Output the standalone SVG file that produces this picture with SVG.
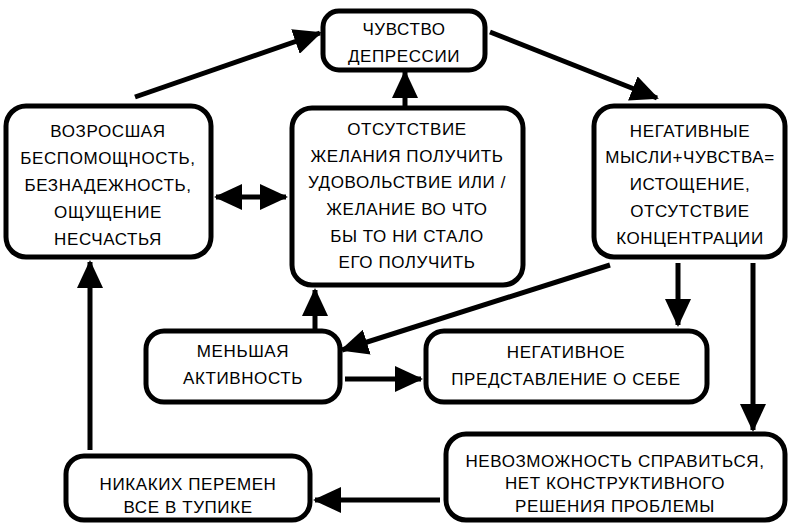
<svg xmlns="http://www.w3.org/2000/svg" width="792" height="532" viewBox="0 0 792 532">
<style>
.box{fill:#fff;stroke:#000;stroke-width:5}
.t{font-family:"Liberation Sans",Arial,sans-serif;font-size:17px;fill:#000;text-anchor:middle;letter-spacing:0.6px}
.c{stroke:#000;stroke-width:5;fill:none}
</style>
<defs>
<marker id="ah" markerUnits="userSpaceOnUse" markerWidth="28" markerHeight="26" refX="26" refY="13" orient="auto">
<path d="M0,0 L28,13 L0,26 Z" fill="#000"/>
</marker>
<marker id="as" markerUnits="userSpaceOnUse" markerWidth="28" markerHeight="26" refX="2" refY="13" orient="auto">
<path d="M28,0 L0,13 L28,26 Z" fill="#000"/>
</marker>
</defs>
<rect width="792" height="532" fill="#fff"/>
<g id="connectors">
<line class="c" x1="135" y1="97" x2="320" y2="33" marker-end="url(#ah)"/>
<line class="c" x1="490" y1="32" x2="657" y2="98" marker-end="url(#ah)"/>
<line class="c" x1="405" y1="108" x2="405" y2="72" marker-end="url(#ah)"/>
<line class="c" x1="216" y1="197" x2="286" y2="197" marker-start="url(#as)" marker-end="url(#ah)"/>
<line class="c" x1="610" y1="265" x2="342" y2="350" marker-end="url(#ah)"/>
<line class="c" x1="678" y1="263" x2="678" y2="325" marker-end="url(#ah)"/>
<line class="c" x1="753" y1="263" x2="753" y2="430" marker-end="url(#ah)"/>
<line class="c" x1="315" y1="330" x2="315" y2="290" marker-end="url(#ah)"/>
<line class="c" x1="345" y1="379" x2="421" y2="379" marker-end="url(#ah)"/>
<line class="c" x1="440" y1="500" x2="315" y2="500" marker-end="url(#ah)"/>
<line class="c" x1="90" y1="450" x2="90" y2="262" marker-end="url(#ah)"/>
</g>
<g id="n1">
<rect class="box" x="323" y="11" width="162" height="59" rx="16"/>
<text class="t" x="404" y="35">ЧУВСТВО</text>
<text class="t" x="404" y="62">ДЕПРЕССИИ</text>
</g>
<g id="n2">
<rect class="box" x="6" y="106" width="205" height="151" rx="20"/>
<text class="t" x="108" y="137">ВОЗРОСШАЯ</text>
<text class="t" x="108" y="164">БЕСПОМОЩНОСТЬ,</text>
<text class="t" x="108" y="191">БЕЗНАДЕЖНОСТЬ,</text>
<text class="t" x="108" y="218">ОЩУЩЕНИЕ</text>
<text class="t" x="108" y="245">НЕСЧАСТЬЯ</text>
</g>
<g id="n3">
<rect class="box" x="292" y="108" width="231" height="177" rx="20"/>
<text class="t" x="407" y="135">ОТСУТСТВИЕ</text>
<text class="t" x="407" y="162">ЖЕЛАНИЯ ПОЛУЧИТЬ</text>
<text class="t" x="407" y="188">УДОВОЛЬСТВИЕ ИЛИ /</text>
<text class="t" x="407" y="215">ЖЕЛАНИЕ ВО ЧТО</text>
<text class="t" x="407" y="242">БЫ ТО НИ СТАЛО</text>
<text class="t" x="407" y="268">ЕГО ПОЛУЧИТЬ</text>
</g>
<g id="n4">
<rect class="box" x="594" y="106" width="191" height="151" rx="20"/>
<text class="t" x="690" y="137">НЕГАТИВНЫЕ</text>
<text class="t" x="690" y="163">МЫСЛИ+ЧУВСТВА=</text>
<text class="t" x="690" y="190">ИСТОЩЕНИЕ,</text>
<text class="t" x="690" y="217">ОТСУТСТВИЕ</text>
<text class="t" x="690" y="244">КОНЦЕНТРАЦИИ</text>
</g>
<g id="n5">
<rect class="box" x="146" y="331" width="194" height="71" rx="18"/>
<text class="t" x="243" y="357">МЕНЬШАЯ</text>
<text class="t" x="243" y="384">АКТИВНОСТЬ</text>
</g>
<g id="n6">
<rect class="box" x="426" y="331" width="281" height="71" rx="18"/>
<text class="t" x="566" y="358">НЕГАТИВНОЕ</text>
<text class="t" x="566" y="385">ПРЕДСТАВЛЕНИЕ О СЕБЕ</text>
</g>
<g id="n7">
<rect class="box" x="446" y="434" width="339" height="86" rx="20"/>
<text class="t" x="615" y="467">НЕВОЗМОЖНОСТЬ СПРАВИТЬСЯ,</text>
<text class="t" x="615" y="489">НЕТ КОНСТРУКТИВНОГО</text>
<text class="t" x="615" y="512">РЕШЕНИЯ ПРОБЛЕМЫ</text>
</g>
<g id="n8">
<rect class="box" x="66" y="456" width="244" height="64" rx="18"/>
<text class="t" x="188" y="490">НИКАКИХ ПЕРЕМЕН</text>
<text class="t" x="188" y="513">ВСЕ В ТУПИКЕ</text>
</g>
</svg>
